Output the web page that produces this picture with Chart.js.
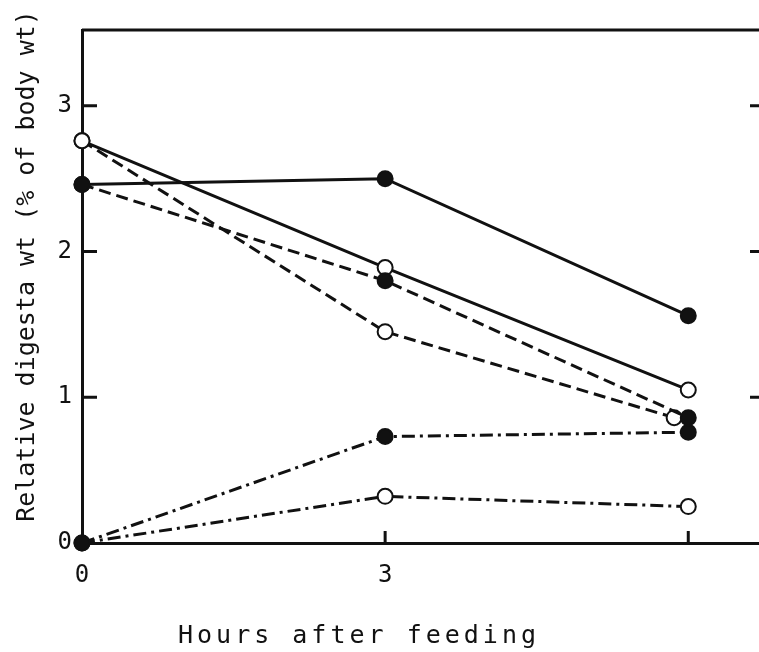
<!DOCTYPE html>
<html>
<head>
<meta charset="utf-8">
<title>Relative digesta weight after feeding</title>
<script src="https://cdn.jsdelivr.net/npm/chart.js@4.4.0/dist/chart.umd.min.js"></script>
<style>
  html, body { margin: 0; padding: 0; background: #fff; }
  #wrap { width: 759px; height: 652px; }
</style>
</head>
<body>
<div id="wrap"><canvas id="digesta" width="759" height="652"></canvas></div>
<script>
// Values (hours after feeding vs % of body wt)
const hours = [0, 3, 6];
const hoursShifted = [0, 3, 5.86]; // open circle drawn just left of 6 h in the original
const solidFilled = [2.46, 2.50, 1.56];
const solidOpen = [2.76, 1.89, 1.05];
const dashedFilled = [2.46, 1.80, 0.86];
const dashedOpen = [2.76, 1.45, 0.86];
const dashDotFilled = [0, 0.73, 0.76];
const dashDotOpen = [0, 0.32, 0.25];

const yTickValues = [0, 1, 2, 3];
const xTickValues = [0, 3, 6];
const xTickLabels = ['0', '3', ''];
const xTitle = 'Hours after feeding';
const yTitle = 'Relative digesta wt (% of body wt)';

const INK = '#111';
const FONT = '"DejaVu Sans Mono", monospace';

function series(xs, ys, filled, dash) {
    return {
        data: xs.map((x, i) => ({ x: x, y: ys[i] })),
        borderColor: INK,
        borderWidth: 3,
        borderDash: dash,
        pointRadius: 7.5,
        pointHoverRadius: 7.5,
        pointBorderWidth: 2,
        pointBorderColor: INK,
        pointBackgroundColor: filled ? INK : '#fff',
        tension: 0,
        clip: false
    };
}

const DASH = [12, 6];
const DASH_DOT = [13, 5, 3, 5];

// inward tick marks, top border and axis titles
const framePlugin = {
    id: 'frame',
    beforeDatasetsDraw(chart) {
        const { ctx, chartArea: a, scales: { x, y } } = chart;
        ctx.save();
        ctx.strokeStyle = INK;
        ctx.lineWidth = 3;
        ctx.beginPath();
        ctx.moveTo(a.left, a.top);
        ctx.lineTo(a.right, a.top);
        yTickValues.slice(1).forEach(v => {
            const py = y.getPixelForValue(v);
            ctx.moveTo(a.left, py);
            ctx.lineTo(a.left + 15, py);
            ctx.moveTo(a.right - 9, py);
            ctx.lineTo(a.right, py);
        });
        xTickValues.slice(1).forEach(v => {
            const px = x.getPixelForValue(v);
            ctx.moveTo(px, a.bottom);
            ctx.lineTo(px, a.bottom - 12);
        });
        ctx.stroke();
        ctx.restore();
    },
    afterDraw(chart) {
        const { ctx } = chart;
        ctx.save();
        ctx.fillStyle = INK;
        ctx.textAlign = 'center';
        ctx.textBaseline = 'middle';

        ctx.font = '25px ' + FONT;
        ctx.translate(27, 266);
        ctx.rotate(-Math.PI / 2);
        ctx.fillText(yTitle, 0, 0);
        ctx.setTransform(1, 0, 0, 1, 0, 0);

        ctx.font = '25px ' + FONT;
        ctx.letterSpacing = '4px';
        ctx.fillText(xTitle, 359, 636);
        ctx.restore();
    }
};

new Chart(document.getElementById('digesta'), {
    type: 'line',
    data: {
        datasets: [
            series(hours, solidFilled, true, []),
            series(hours, dashedFilled, true, DASH),
            series(hours, dashDotFilled, true, DASH_DOT),
            series(hours, solidOpen, false, []),
            series(hoursShifted, dashedOpen, false, DASH),
            series(hours, dashDotOpen, false, DASH_DOT)
        ]
    },
    options: {
        responsive: false,
        animation: false,
        devicePixelRatio: 1,
        layout: { autoPadding: false, padding: { top: 30, right: 0, left: 0, bottom: 0 } },
        plugins: {
            legend: { display: false },
            tooltip: { enabled: false }
        },
        scales: {
            x: {
                type: 'linear',
                min: 0,
                max: 6.7,
                grid: { display: false, drawTicks: false },
                border: { display: true, width: 3, color: INK },
                afterBuildTicks: s => { s.ticks = xTickValues.map(v => ({ value: v })); },
                afterFit: s => { s.height = 109; },
                ticks: {
                    color: INK,
                    font: { family: FONT, size: 24 },
                    padding: 18,
                    maxRotation: 0,
                    callback: (v, i) => xTickLabels[i]
                }
            },
            y: {
                min: 0,
                max: 3.52,
                grid: { display: false, drawTicks: false },
                border: { display: true, width: 3, color: INK },
                afterBuildTicks: s => { s.ticks = yTickValues.map(v => ({ value: v })); },
                afterFit: s => { s.width = 82; },
                ticks: {
                    color: INK,
                    font: { family: FONT, size: 24 },
                    padding: 10,
                    callback: v => String(v)
                }
            }
        }
    },
    plugins: [framePlugin]
});
</script>
</body>
</html>
